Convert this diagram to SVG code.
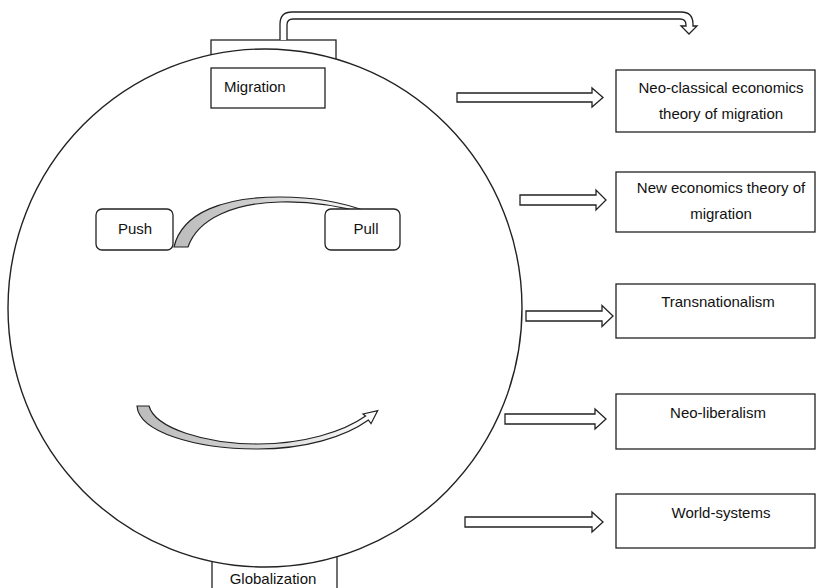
<svg xmlns="http://www.w3.org/2000/svg" width="816" height="588" viewBox="0 0 816 588">
<style>
.box{fill:#fff;stroke:#222;stroke-width:1.3}
.blk{fill:#fff;stroke:#222;stroke-width:1.3;stroke-linejoin:miter}
.t{font-family:"Liberation Sans",Arial,sans-serif;font-size:15px;fill:#111}
.c{text-anchor:middle}
</style>
<defs>
<linearGradient id="g1" x1="0" y1="0" x2="1" y2="0">
<stop offset="0" stop-color="#bcbcbc"/>
<stop offset="0.45" stop-color="#d0d0d0"/>
<stop offset="1" stop-color="#ffffff"/>
</linearGradient>
</defs>
<rect width="816" height="588" fill="#fff"/>
<g id="migration-top">
<rect class="box" x="211" y="40" width="125" height="40"/>
</g>
<g id="globalization">
<rect class="box" x="212" y="540" width="125" height="60"/>
<text class="t c" x="273" y="584">Globalization</text>
</g>
<g id="circle">
<ellipse cx="265" cy="308" rx="257" ry="259" fill="#fff" stroke="#222" stroke-width="1.4"/>
</g>
<g id="migration">
<rect class="box" x="211" y="68" width="114" height="40"/>
<text class="t" x="224" y="92">Migration</text>
</g>
<g id="connectors">
<path class="blk" d="M280,40 V24 Q280,12 292,12 H681 Q693,12 693,24 V26 L697,26 L689,34 L681,26 L686,26 V25 Q686,19 680,19 H293 Q287,19 287,25 V40"/>
<path class="blk" d="M457,93 H592 V88 L603,97.5 L592,107 V102 H457 Z"/>
<path class="blk" d="M520,195 H596 V190 L606,200 L596,210 V205 H520 Z"/>
<path class="blk" d="M526,311 H602 V305.5 L613,316 L602,326.5 V321 H526 Z"/>
<path class="blk" d="M505,414 H595 V409 L606,419 L595,429 V424 H505 Z"/>
<path class="blk" d="M465,517 H592 V512 L603,522 L592,532 V527 H465 Z"/>
<path d="M174,247 C182,212 225,197 280,197 C315,197 345,203 368,212 L368,214 C340,206 310,201 280,202 C235,203 198,218 188,247 Z" fill="url(#g1)" stroke="#222" stroke-width="1.2"/>
<path d="M137,406 C139,432 195,449 258,449 C305,449 345,437 368.4,420 L371,423.7 L377.7,410.6 L363,414 L365.6,416 C343,432 303,444 258,444 C205,444 155,428 149,406 Z" fill="url(#g1)" stroke="#222" stroke-width="1.2"/>
</g>
<g id="push">
<rect class="box" x="96" y="209" width="77" height="41" rx="6"/>
<text class="t c" x="135" y="234">Push</text>
</g>
<g id="pull">
<rect class="box" x="325" y="209" width="75" height="41" rx="6"/>
<text class="t c" x="366" y="234">Pull</text>
</g>
<g id="neo-classical">
<rect class="box" x="616" y="70" width="199" height="62"/>
<text class="t c" x="721" y="93">Neo-classical economics</text>
<text class="t c" x="721" y="119">theory of migration</text>
</g>
<g id="new-economics">
<rect class="box" x="616" y="172" width="199" height="60"/>
<text class="t c" x="721" y="193">New economics theory of</text>
<text class="t c" x="721" y="219">migration</text>
</g>
<g id="transnationalism">
<rect class="box" x="616" y="284" width="199" height="54"/>
<text class="t c" x="718" y="307">Transnationalism</text>
</g>
<g id="neo-liberalism">
<rect class="box" x="616" y="394" width="199" height="55"/>
<text class="t c" x="718" y="418">Neo-liberalism</text>
</g>
<g id="world-systems">
<rect class="box" x="616" y="494" width="199" height="54"/>
<text class="t c" x="721" y="518">World-systems</text>
</g>
</svg>
